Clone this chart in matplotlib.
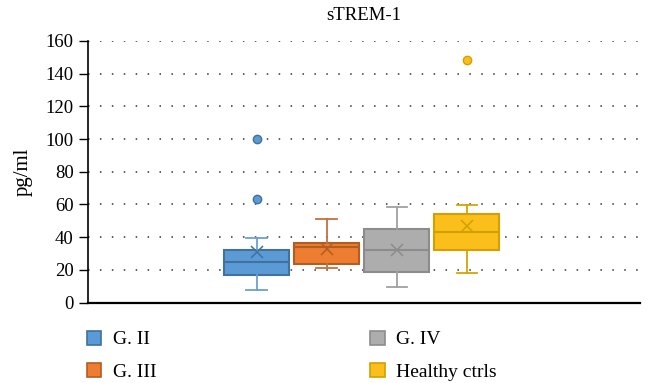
import matplotlib
matplotlib.use("Agg")
import matplotlib.pyplot as plt
from matplotlib.patches import Patch

# Box-plot summary values for sTREM-1 (pg/ml)
groups = ["G. II", "G. III", "G. IV", "Healthy ctrls"]
whisker_low = [7.8, 21.3, 9.5, 18.1]
q1 = [16.6, 23.7, 18.7, 32.3]
median = [24.6, 33.8, 32.1, 43.3]
q3 = [32.3, 36.2, 44.8, 54.0]
whisker_high = [39.7, 51.3, 58.6, 59.5]
mean = [30.7, 32.7, 32.3, 47.0]
outliers = [[100.2, 63.5], [], [], [148.6]]

y_ticks = [0, 20, 40, 60, 80, 100, 120, 140, 160]

fills = ["#5B9BD5", "#ED7D31", "#ADADAD", "#FBBF1C"]
edges = ["#41719C", "#B35D22", "#8C8C8C", "#D4A000"]
whisker_colors = ["#6A9FD0", "#C8703A", "#A0A0A0", "#D9A400"]

plt.rcParams["font.family"] = ["Liberation Serif", "DejaVu Serif"]

fig = plt.figure(figsize=(6.48, 3.83), dpi=100)
ax = fig.add_axes([0.136, 0.210, 0.852, 0.683])

positions = [0, 1, 2, 3]
for i, g in enumerate(groups):
    st = dict(label=g, whislo=whisker_low[i], q1=q1[i], med=median[i],
              q3=q3[i], whishi=whisker_high[i], mean=mean[i],
              fliers=outliers[i])
    ax.bxp([st], positions=[positions[i]], widths=0.93, capwidths=0.29,
           patch_artist=True, showmeans=True, showfliers=True,
           boxprops=dict(facecolor=fills[i], edgecolor=edges[i], linewidth=1.5),
           medianprops=dict(color=edges[i], linewidth=1.5),
           whiskerprops=dict(color=whisker_colors[i], linewidth=1.3),
           capprops=dict(color=whisker_colors[i], linewidth=1.3),
           meanprops=dict(marker="x", markeredgecolor=edges[i], markersize=9,
                          markeredgewidth=1.1),
           flierprops=dict(marker="o", markerfacecolor=fills[i],
                           markeredgecolor=edges[i], markersize=6),
           zorder=3)

ax.set_xlim(-2.407, 5.479)
ax.set_ylim(0, 160)
ax.set_yticks(y_ticks)
ax.set_xticks([])
ax.tick_params(axis="y", labelsize=13.5, length=6.5, width=1, direction="out", pad=4)
ax.yaxis.grid(True, linestyle=(0, (1, 6.8)), color="#333333", linewidth=1.1)
ax.set_axisbelow(True)
for s in ["top", "right"]:
    ax.spines[s].set_visible(False)
ax.spines["left"].set_linewidth(1.2)
ax.spines["bottom"].set_linewidth(1.6)
ax.set_ylabel("pg/ml", fontsize=15, labelpad=9)
ax.set_title("sTREM-1", fontsize=13.5, pad=15)

handles = [Patch(facecolor=fills[i], edgecolor=edges[i], linewidth=1.2) for i in range(4)]
legend_kw = dict(loc="upper left", frameon=False, fontsize=14,
                 handlelength=0.75, handleheight=0.75, labelspacing=0.75,
                 handletextpad=0.6, borderpad=0, borderaxespad=0)
fig.legend(handles[:2], groups[:2], bbox_to_anchor=(0.134, 0.137), **legend_kw)
fig.legend(handles[2:], groups[2:], bbox_to_anchor=(0.571, 0.137), **legend_kw)

fig.savefig("out.png", dpi=100)
